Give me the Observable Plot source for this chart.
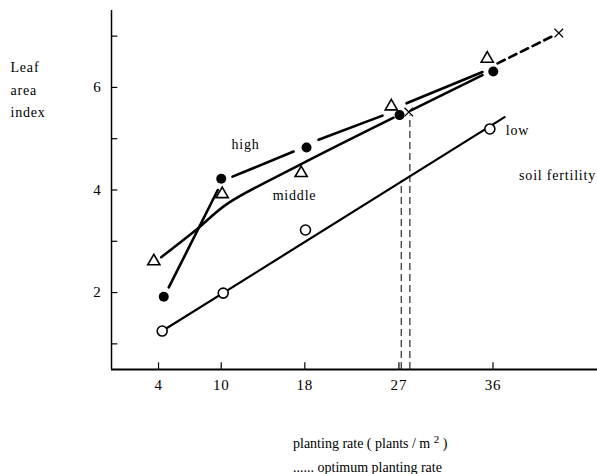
<!DOCTYPE html>
<html><head><meta charset="utf-8">
<script src="https://cdn.jsdelivr.net/npm/d3@7"></script>
<script src="https://cdn.jsdelivr.net/npm/@observablehq/plot@0.6"></script>
<style>
body{margin:0;background:#fff;font-family:"Liberation Serif","DejaVu Serif",serif;color:#000}
#chart svg text{letter-spacing:0.8px}
#caption{margin-left:293px;margin-top:22px;font-size:14px;line-height:24px;letter-spacing:0px}
#caption .sup{position:relative;top:-5px;font-size:11px}
</style></head><body>
<div id="chart"></div>
<div id="caption">planting rate ( plants / m <span class="sup">2</span> )<br>...... optimum planting rate</div>
<script>
// axis ticks
const xTicks = [4, 10, 18, 27, 36];
const yTicks = [2, 4, 6];
const yMinorTicks = [1, 3, 5, 7];

// measured points: high fertility (filled circles)
const highX = [4.5, 10.0, 18.16, 27.06, 36.03];
const highY = [1.92, 4.22, 4.83, 5.46, 6.31];
// middle fertility (open triangles)
const middleX = [3.55, 10.09, 17.65, 26.27, 35.45];
const middleY = [2.61, 3.92, 4.33, 5.63, 6.56];
// low fertility (open circles)
const lowX = [4.35, 10.19, 18.06, 35.7];
const lowY = [1.25, 1.99, 3.22, 5.19];

// drawn lines (segments)
const highLineX = [[4.98, 9.67], [11.08, 16.92], [19.31, 25.43], [27.73, 35.0]];
const highLineY = [[2.10, 4.00], [4.26, 4.75], [4.98, 5.45], [5.69, 6.30]];
const highExtX = [36.44, 41.8];
const highExtY = [6.47, 7.01];
const middleLineX = [[4.26, 7.70, 10.57, 17.42, 26.49], [28.11, 35.0]];
const middleLineY = [[2.69, 3.24, 3.73, 4.48, 5.41], [5.55, 6.24]];
const lowLineX = [4.35, 37.11];
const lowLineY = [1.25, 5.42];

// optimum planting rate markers
const crossX = [27.95, 42.3];
const crossY = [5.52, 7.06];
const optimumX = [27.22, 28.05];
const optimumTopY = [4.18, 5.45];

// annotation labels
const labelText = ["high", "middle", "low", "soil fertility"];
const labelX = [12.32, 17.01, 38.35, 42.18];
const labelY = [4.89, 3.89, 5.16, 4.28];

const xDomain = [-0.5, 46];
const yDomain = [0.5, 7.5];

const pts = (xs, ys) => xs.map((x, i) => ({x, y: ys[i]}));
const segs = (xss, yss) => xss.flatMap((xs, k) => xs.map((x, i) => ({x, y: yss[k][i], k})));

const chart = Plot.plot({
  width: 597, height: 410,
  marginTop: 10, marginLeft: 111, marginRight: 0, marginBottom: 41,
  x: {domain: xDomain, axis: null},
  y: {domain: yDomain, axis: null},
  style: {fontFamily: '"Liberation Serif", "DejaVu Serif", serif', fontSize: "14px", background: "#fff", color: "#000", overflow: "visible"},
  marks: [
    Plot.ruleX([xDomain[0]], {stroke: "#000", strokeWidth: 1.5}),
    Plot.ruleY([yDomain[0]], {stroke: "#000", strokeWidth: 2}),
    Plot.ruleY([...yTicks, ...yMinorTicks], {y: d => d, x1: xDomain[0], x2: xDomain[0] + 0.6, stroke: "#000", strokeWidth: 1.2}),
    Plot.ruleX(xTicks, {x: d => d, y1: yDomain[0], y2: yDomain[0] + 0.13, stroke: "#000", strokeWidth: 1.2}),
    Plot.text(yTicks, {x: xDomain[0], y: d => d, text: d => String(d), textAnchor: "end", dx: -10, fontSize: 15}),
    Plot.text(xTicks, {x: d => d, y: yDomain[0], text: d => String(d), dy: 16, fontSize: 15}),
    Plot.text(["Leaf\narea\nindex"], {frameAnchor: "top-left", dx: -101, dy: 46, textAnchor: "start", lineHeight: 1.6, fontSize: 14}),
    // optimum verticals
    Plot.ruleX(pts(optimumX, optimumTopY), {x: "x", y1: yDomain[0], y2: "y", stroke: "#000", strokeWidth: 1, strokeDasharray: "7,4"}),
    // lines
    Plot.line(pts(lowLineX, lowLineY), {x: "x", y: "y", stroke: "#000", strokeWidth: 2.2}),
    Plot.line(segs(middleLineX, middleLineY), {x: "x", y: "y", z: "k", stroke: "#000", strokeWidth: 2.5, curve: "catmull-rom"}),
    Plot.line(segs(highLineX, highLineY), {x: "x", y: "y", z: "k", stroke: "#000", strokeWidth: 2.6}),
    Plot.line(pts(highExtX, highExtY), {x: "x", y: "y", stroke: "#000", strokeWidth: 2.6, strokeDasharray: "8,5"}),
    // markers
    Plot.dot(pts(lowX, lowY), {x: "x", y: "y", r: 5, fill: "#fff", stroke: "#000", strokeWidth: 1.6}),
    Plot.dot(pts(middleX, middleY), {x: "x", y: "y", symbol: "triangle", r: 4.5, fill: "#fff", stroke: "#000", strokeWidth: 1.6}),
    Plot.dot(pts(highX, highY), {x: "x", y: "y", r: 5, fill: "#000"}),
    Plot.dot(pts(crossX, crossY), {x: "x", y: "y", symbol: "times", r: 4, stroke: "#000", strokeWidth: 1.3}),
    Plot.text(labelText.map((t, i) => ({t, x: labelX[i], y: labelY[i]})), {x: "x", y: "y", text: "t", fontSize: 14})
  ]
});
document.getElementById("chart").appendChild(chart);
</script></body></html>
